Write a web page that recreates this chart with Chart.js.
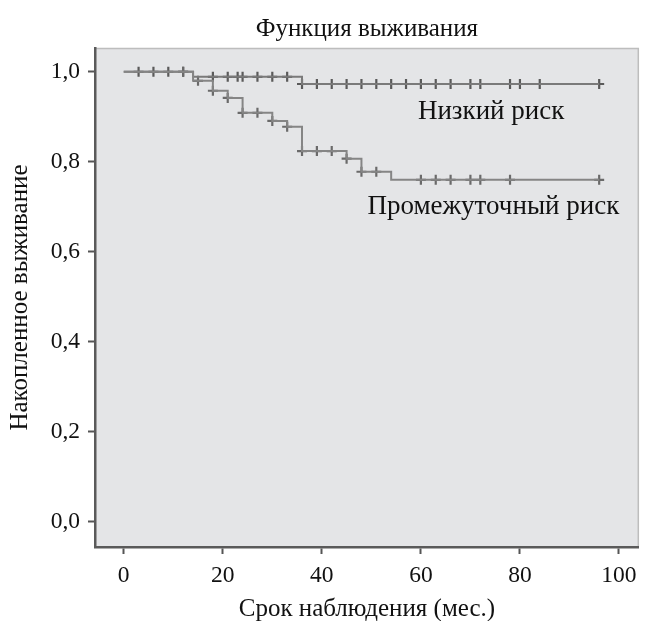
<!DOCTYPE html>
<html>
<head>
<meta charset="utf-8">
<script src="https://cdn.jsdelivr.net/npm/chart.js@4/dist/chart.umd.min.js"></script>
<style>
  html, body { margin: 0; padding: 0; background: #ffffff; }
  #wrap { width: 646px; height: 621px; }
</style>
</head>
<body>
<div id="wrap"><canvas id="chart" width="646" height="621"></canvas></div>
<script>
// Kaplan-Meier steps: time (months) and survival after the step
const lowTimes = [0, 14, 36, 96];
const lowSurv = [1.0, 0.989, 0.973, 0.973];
const lowCensored = [3, 6, 9, 12, 18, 21, 23, 24, 27, 30, 33, 36, 39, 42, 45, 48, 51, 54, 57, 60, 63, 66, 70, 72, 78, 80, 84, 96];

const midTimes = [0, 14, 18, 21, 24, 30, 33, 36, 45, 48, 54, 96];
const midSurv = [1.0, 0.98, 0.958, 0.942, 0.909, 0.891, 0.878, 0.824, 0.807, 0.778, 0.76, 0.76];
const midCensored = [12, 15, 18, 21, 24, 27, 30, 33, 36, 39, 42, 45, 48, 51, 60, 63, 66, 70, 72, 78, 96];

const xTicks = [0, 20, 40, 60, 80, 100];
const yTicks = [0, 0.2, 0.4, 0.6, 0.8, 1.0];

const FONT = "'Liberation Serif', 'DejaVu Serif', serif";

// survival value of a step curve at time t
function survivalAt(times, surv, t) {
  let s = surv[0];
  for (let i = 0; i < times.length; i++) {
    if (times[i] <= t) s = surv[i];
  }
  return s;
}

function stepPoints(times, surv) {
  return times.map((t, i) => ({ x: t, y: surv[i] }));
}

function censorPoints(times, surv, censored) {
  return censored.map(t => ({ x: t, y: survivalAt(times, surv, t) }));
}

// Plot background + light top/right frame
const plotBackground = {
  id: 'plotBackground',
  beforeDraw(chart) {
    const { ctx, chartArea: a } = chart;
    ctx.save();
    ctx.fillStyle = '#e4e5e7';
    ctx.fillRect(a.left, a.top, a.right - a.left, a.bottom - a.top);
    ctx.strokeStyle = '#bdbdbd';
    ctx.lineWidth = 1.5;
    ctx.beginPath();
    ctx.moveTo(a.left, a.top + 0.5);
    ctx.lineTo(a.right - 0.5, a.top + 0.5);
    ctx.lineTo(a.right - 0.5, a.bottom);
    ctx.stroke();
    ctx.restore();
  }
};

// Curve labels placed in data coordinates (left edge, baseline)
const curveLabels = [
  { text: 'Низкий риск', x: 59.4, y: 0.896 },
  { text: 'Промежуточный риск', x: 49.2, y: 0.683 }
];

const curveLabelPlugin = {
  id: 'curveLabels',
  afterDatasetsDraw(chart) {
    const { ctx, scales } = chart;
    ctx.save();
    ctx.font = '27px ' + FONT;
    ctx.fillStyle = '#111111';
    ctx.textAlign = 'left';
    ctx.textBaseline = 'alphabetic';
    curveLabels.forEach(l => {
      ctx.fillText(l.text, scales.x.getPixelForValue(l.x), scales.y.getPixelForValue(l.y));
    });
    ctx.restore();
  }
};

const ctx = document.getElementById('chart').getContext('2d');
new Chart(ctx, {
  type: 'scatter',
  data: {
    datasets: [
      {
        label: 'Промежуточный риск',
        data: stepPoints(midTimes, midSurv),
        showLine: true,
        stepped: 'before',
        borderColor: '#858585',
        borderWidth: 2,
        pointRadius: 0,
      },
      {
        label: 'Низкий риск',
        data: stepPoints(lowTimes, lowSurv),
        showLine: true,
        stepped: 'before',
        borderColor: '#7a7a7a',
        borderWidth: 2,
        pointRadius: 0,
      },
      {
        label: 'Промежуточный риск (цензур.)',
        data: censorPoints(midTimes, midSurv, midCensored),
        showLine: false,
        pointStyle: 'cross',
        pointRadius: 5,
        borderColor: '#6a6a6a',
        pointBorderWidth: 2.2,
      },
      {
        label: 'Низкий риск (цензур.)',
        data: censorPoints(lowTimes, lowSurv, lowCensored),
        showLine: false,
        pointStyle: 'cross',
        pointRadius: 5,
        borderColor: '#5a5a5a',
        pointBorderWidth: 2.2,
      },
    ],
  },
  options: {
    responsive: false,
    animation: false,
    layout: { padding: { left: 0, right: 2, top: 0, bottom: 0 } },
    plugins: {
      legend: { display: false },
      tooltip: { enabled: false },
      title: {
        display: true,
        text: 'Функция выживания',
        fullSize: false,
        color: '#111111',
        font: { family: FONT, size: 25, weight: 'normal', lineHeight: 1.2 },
        padding: { top: 14, bottom: 4 },
      },
    },
    scales: {
      x: {
        type: 'linear',
        min: -5.8,
        max: 104,
        afterBuildTicks: scale => { scale.ticks = xTicks.map(v => ({ value: v })); },
        afterFit: scale => { scale.height = 74; },
        ticks: {
          color: '#111111',
          font: { family: FONT, size: 23.5 },
          padding: 8,
          maxRotation: 0,
        },
        grid: { drawOnChartArea: false, drawTicks: true, tickLength: 7, tickWidth: 2, color: '#555555' },
        border: { display: true, color: '#5a5a5a', width: 2.5 },
        title: {
          display: true,
          text: 'Срок наблюдения (мес.)',
          color: '#111111',
          font: { family: FONT, size: 25, lineHeight: 1.0 },
          padding: { top: 0, bottom: -1 },
        },
      },
      y: {
        type: 'linear',
        min: -0.056,
        max: 1.053,
        afterBuildTicks: scale => { scale.ticks = yTicks.map(v => ({ value: v })); },
        afterFit: scale => { scale.width = 95; },
        ticks: {
          color: '#111111',
          font: { family: FONT, size: 23.5 },
          padding: 8,
          callback: v => v.toFixed(1).replace('.', ','),
        },
        grid: { drawOnChartArea: false, drawTicks: true, tickLength: 7, tickWidth: 2, color: '#555555' },
        border: { display: true, color: '#5a5a5a', width: 2.5 },
        title: {
          display: true,
          text: 'Накопленное выживание',
          color: '#111111',
          font: { family: FONT, size: 25, lineHeight: 1.2 },
          padding: { top: 5, bottom: 0 },
        },
      },
    },
  },
  plugins: [plotBackground, curveLabelPlugin],
});
</script>
</body>
</html>
